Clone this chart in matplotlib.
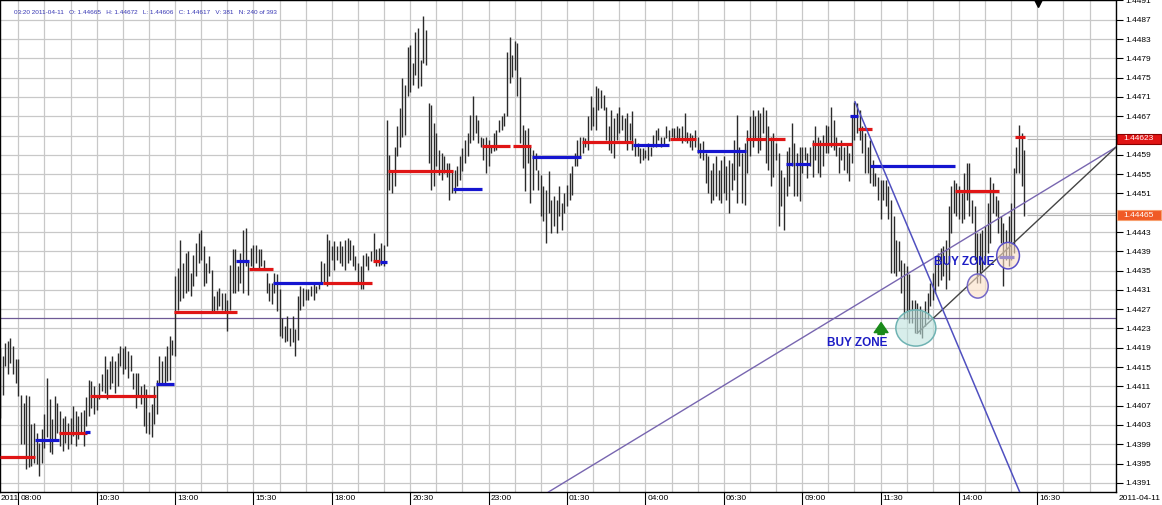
import numpy as np
import matplotlib.pyplot as plt
from matplotlib.patches import Ellipse, Rectangle
import matplotlib.transforms as mtransforms

plt.rcParams['font.family'] = ['Liberation Sans', 'DejaVu Sans']
NARROW = ['Liberation Sans Narrow', 'Liberation Sans', 'DejaVu Sans']

# 5 minute bars, bar 0 = 08:00 (2011-04-10), prices in 1e-5 units
first_bar = -7
bar_high = [
    144190, 144173, 144200, 144204, 144211, 144193, 144166,
    144166, 144093, 144076, 144093, 144090, 144031, 144035, 144014, 143993, 144021,
    144052, 144128, 144083, 144042, 144090, 144076, 144059, 144045, 144049, 144035,
    144045, 144069, 144059, 144049, 144056, 144062, 144087, 144124, 144121, 144111,
    144093, 144118, 144135, 144173, 144145, 144162, 144173, 144162, 144180, 144193,
    144190, 144193, 144183, 144176, 144138, 144138, 144138, 144111, 144114, 144104,
    144056, 144073, 144111, 144124, 144173, 144162, 144173, 144193, 144214, 144207,
    144338, 144356, 144414, 144366, 144387, 144390, 144345, 144383, 144407, 144428,
    144435, 144400, 144366, 144380, 144352, 144297, 144307, 144314, 144304, 144304,
    144290, 144362, 144394, 144394, 144359, 144387, 144435, 144438, 144369, 144397,
    144404, 144404, 144394, 144394, 144373, 144345, 144325, 144325, 144345, 144342,
    144311, 144252, 144235, 144256, 144231, 144256, 144228, 144297, 144318, 144314,
    144311, 144311, 144318, 144325, 144318, 144325, 144369, 144366, 144425, 144414,
    144400, 144411, 144400, 144411, 144400, 144414, 144418, 144414, 144404, 144380,
    144366, 144359, 144383, 144387, 144380, 144390, 144428, 144394, 144397, 144407,
    144404, 144663, 144590, 144559, 144607, 144649, 144687, 144749, 144735, 144814,
    144818, 144780, 144845, 144852, 144787, 144877, 144849, 144697, 144694, 144656,
    144635, 144601, 144594, 144587, 144573, 144573, 144559, 144559, 144566, 144587,
    144604, 144621, 144635, 144673, 144711, 144673, 144663, 144628, 144625, 144628,
    144621, 144607, 144635, 144642, 144663, 144670, 144676, 144804, 144835, 144797,
    144825, 144821, 144752, 144652, 144642, 144645, 144607, 144601, 144594, 144559,
    144549, 144525, 144518, 144556, 144497, 144504, 144497, 144525, 144490, 144511,
    144528, 144552, 144566, 144594, 144621, 144628, 144628, 144625, 144670, 144711,
    144690, 144732, 144728, 144725, 144714, 144690, 144649, 144683, 144666, 144676,
    144690, 144673, 144666, 144676, 144656, 144680, 144625, 144614, 144604, 144604,
    144601, 144614, 144607, 144632, 144642, 144645, 144628, 144628, 144649, 144642,
    144645, 144645, 144649, 144645, 144649, 144676, 144638, 144635, 144632, 144642,
    144628, 144614, 144618, 144594, 144587, 144559, 144573, 144587, 144559, 144580,
    144587, 144566, 144580, 144573, 144621, 144673, 144607, 144594, 144614, 144642,
    144670, 144683, 144670, 144683, 144676, 144690, 144683, 144649, 144628, 144635,
    144614, 144594, 144559, 144545, 144597, 144607, 144656, 144614, 144594, 144607,
    144607, 144607, 144594, 144607, 144621, 144649, 144628, 144621, 144632, 144652,
    144649, 144690, 144663, 144628, 144607, 144621, 144607, 144614, 144594, 144670,
    144700, 144697, 144683, 144649, 144635, 144607, 144621, 144580, 144552, 144545,
    144538, 144538, 144538, 144525, 144497, 144463, 144414, 144411, 144373, 144366,
    144359, 144342, 144290, 144290, 144283, 144276, 144266, 144287, 144304, 144325,
    144345, 144373, 144387, 144397, 144400, 144414, 144483, 144525, 144538, 144532,
    144525, 144511, 144552, 144573, 144573, 144497, 144483, 144428, 144428, 144435,
    144442, 144490, 144545, 144532, 144504, 144497, 144463, 144449, 144435, 144463,
    144490, 144563, 144607, 144652, 144635, 144601,
]
bar_low = [
    144045, 144093, 144152, 144135, 144159, 144135, 144118,
    144090, 143990, 143990, 143938, 143942, 143945, 143952, 143949, 143924, 143952,
    143983, 144004, 143973, 143969, 143997, 144014, 143986, 143976, 143993, 143980,
    143990, 144007, 143986, 144000, 144011, 143986, 144028, 144049, 144066, 144052,
    144062, 144083, 144100, 144097, 144083, 144104, 144118, 144097, 144111, 144152,
    144135, 144145, 144128, 144142, 144104, 144066, 144090, 144073, 144028, 144014,
    144011, 144004, 144031, 144052, 144118, 144118, 144118, 144121, 144124, 144176,
    144173, 144269, 144287, 144293, 144304, 144307, 144297, 144318, 144338, 144366,
    144373, 144318, 144325, 144345, 144266, 144266, 144269, 144276, 144269, 144266,
    144224, 144269, 144304, 144304, 144307, 144325, 144304, 144359, 144300, 144359,
    144352, 144366, 144352, 144359, 144356, 144304, 144287, 144280, 144304, 144266,
    144214, 144211, 144201, 144204, 144194, 144201, 144173, 144207, 144269, 144276,
    144290, 144290, 144297, 144290, 144304, 144311, 144325, 144325, 144318, 144338,
    144373, 144352, 144373, 144366, 144359, 144352, 144366, 144373, 144359, 144352,
    144325, 144311, 144311, 144359, 144352, 144369, 144373, 144359, 144359, 144362,
    144359, 144400, 144518, 144511, 144525, 144587, 144607, 144628, 144632, 144711,
    144721, 144735, 144756, 144728, 144732, 144780, 144776, 144573, 144518, 144525,
    144566, 144549, 144538, 144552, 144545, 144497, 144511, 144511, 144525, 144538,
    144556, 144573, 144587, 144614, 144621, 144635, 144614, 144607, 144580, 144552,
    144566, 144594, 144597, 144601, 144638, 144642, 144649, 144670, 144739, 144752,
    144766, 144711, 144614, 144563, 144514, 144573, 144490, 144518, 144559, 144518,
    144463, 144452, 144407, 144469, 144428, 144442, 144428, 144463, 144435, 144469,
    144483, 144497, 144507, 144566, 144566, 144587, 144594, 144607, 144601, 144642,
    144649, 144642, 144683, 144687, 144683, 144621, 144601, 144594, 144583, 144621,
    144635, 144642, 144614, 144601, 144621, 144601, 144587, 144587, 144573, 144580,
    144583, 144580, 144587, 144607, 144607, 144621, 144607, 144611, 144625, 144618,
    144628, 144621, 144621, 144625, 144614, 144618, 144614, 144607, 144601, 144607,
    144594, 144583, 144580, 144532, 144511, 144490, 144497, 144504, 144497, 144490,
    144511, 144497, 144469, 144518, 144538, 144490, 144566, 144490, 144487, 144552,
    144587, 144607, 144621, 144594, 144601, 144635, 144573, 144559, 144525, 144545,
    144580, 144442, 144483, 144435, 144504, 144525, 144566, 144504, 144504, 144494,
    144552, 144580, 144542, 144566, 144545, 144580, 144552, 144545, 144566, 144594,
    144594, 144607, 144601, 144587, 144552, 144580, 144559, 144552, 144535, 144573,
    144621, 144635, 144621, 144594, 144552, 144552, 144532, 144525, 144525, 144497,
    144456, 144497, 144483, 144456, 144345, 144345, 144338, 144349, 144304, 144249,
    144249, 144242, 144242, 144221, 144221, 144218, 144211, 144235, 144249, 144276,
    144290, 144304, 144318, 144331, 144338, 144311, 144331, 144428, 144469, 144463,
    144456, 144449, 144456, 144497, 144463, 144449, 144373, 144325, 144325, 144352,
    144366, 144387, 144407, 144469, 144463, 144428, 144407, 144318, 144373, 144359,
    144373, 144387, 144552, 144552, 144525, 144463,
]

# horizontal level segments (bar from, bar to, price, side)
level_start = [-7, 6.4, 15.6, 25.5, 27.4, 52.7, 59.6, 83.3, 88.3, 97.5, 116.6,
               135.7, 138.4, 141.5, 166.4, 177.5, 189.3, 196.6, 215.7, 235.2,
               249.4, 259.7, 278.5, 286.9, 293.8, 297.2, 303.8, 318.3, 321.4,
               326.0, 358.5, 375.3, 381.4]
level_end = [6.4, 15.6, 26.3, 27.4, 52.7, 59.6, 83.7, 88.3, 97.5, 116.6, 135.4,
             138.4, 141.1, 166.4, 177.5, 188.2, 196.2, 215.3, 235.2, 249.0,
             259.4, 278.5, 286.1, 293.4, 296.5, 303.0, 319.1, 321.4, 326.7,
             358.5, 375.3, 381.1, 385.3]
level_price = [1.43963, 1.43999, 1.44014, 1.44016, 1.44091, 1.44115, 1.44264,
               1.44369, 1.44354, 1.44324, 1.44324, 1.44370, 1.44367, 1.44557,
               1.44519, 1.44609, 1.44609, 1.44586, 1.44617, 1.44611, 1.44622,
               1.44598, 1.44622, 1.44622, 1.44571, 1.44571, 1.44613, 1.44671,
               1.44644, 1.44567, 1.44515, 1.44379, 1.44626]
level_side = ['up', 'dn', 'up', 'dn', 'up', 'dn', 'up', 'dn', 'up', 'dn', 'up',
              'up', 'dn', 'up', 'dn', 'up', 'up', 'dn', 'up', 'dn', 'up', 'dn',
              'up', 'up', 'dn', 'dn', 'up', 'dn', 'up', 'dn', 'up', 'dn', 'up']

support_price = 1.44252
trend_upper = [(202.9, 1.43891), (420.1, 1.44606)]
trend_lower = [(344.0, 1.44220), (420.1, 1.44606)]
trend_down = [(320.2, 1.44700), (383.4, 1.43889)]

zone_bar = [343.5, 367.2, 378.8]
zone_price = [1.44231, 1.44318, 1.44381]
zone_w = [15.3, 8.0, 8.7]
zone_h = [0.00075, 0.00050, 0.00055]

buy_labels = [(321.0, 1.44200), (362.1, 1.44368)]
arrow_at = (330.2, 1.44212, 1.44248)

last_price = 1.44623
cursor_price = 1.44465

time_ticks = [0, 30, 60, 90, 120, 150, 180, 210, 240, 270, 300, 330, 360, 390]
time_labels = ['08:00', '10:30', '13:00', '15:30', '18:00', '20:30', '23:00',
               '01:30', '04:00', '06:30', '09:00', '11:30', '14:00', '16:30']
price_ticks = [1.4391, 1.4395, 1.4399, 1.4403, 1.4407, 1.4411, 1.4415, 1.4419,
               1.4423, 1.4427, 1.4431, 1.4435, 1.4439, 1.4443, 1.4447, 1.4451,
               1.4455, 1.4459, 1.4463, 1.4467, 1.4471, 1.4475, 1.4479, 1.4483,
               1.4487, 1.4491]
header = ('03:20 2011-04-11   O: 1.44665   H: 1.44672   L: 1.44606   '
          'C: 1.44617   V: 381   N: 240 of 393')

high = np.array(bar_high) / 1e5
low = np.array(bar_low) / 1e5
xs = np.arange(first_bar, first_bar + len(high))

fig = plt.figure(figsize=(11.62, 5.05), dpi=100)
ax = fig.add_axes([0, 13 / 505, 1116 / 1162, 492 / 505])
ax.set_xlim(-7.0, 420.1)
ax.set_ylim(1.43891, 1.44911)

ax.set_xticks(time_ticks)
ax.set_xticks(np.arange(0, 421, 10), minor=True)
ax.set_yticks(price_ticks)
ax.set_axisbelow(True)
ax.grid(True, which='both', axis='x', color='#c8c8c8', lw=0.9)
ax.grid(True, which='major', axis='y', color='#c8c8c8', lw=0.9)
ax.tick_params(axis='x', which='major', length=13, width=0.8, labelbottom=False)
ax.tick_params(axis='x', which='minor', length=0)
ax.yaxis.tick_right()
ax.tick_params(axis='y', length=5, width=0.8, pad=2, labelsize=6)

# the price boxes cover the tick labels sitting behind them
covered = [round(last_price, 4), round(cursor_price, 4) + 0.0001]
ylabels = []
for p in price_ticks:
    hidden = any(abs(p - c) < 0.00015 for c in (last_price, cursor_price))
    ylabels.append('' if hidden else f'{p:.4f}')
ax.set_yticklabels(ylabels)
for s in ax.spines.values():
    s.set_color('black')
    s.set_linewidth(1.0)

for t, lab in zip(time_ticks, time_labels):
    ax.annotate(lab, xy=(t, 0), xycoords=('data', 'axes fraction'),
                xytext=(2, -6.5), textcoords='offset pixels', va='center',
                ha='left', fontsize=6, family=NARROW, annotation_clip=False)
ax.annotate('2011', xy=(0, 0), xycoords='axes fraction', xytext=(1, -6.5),
            textcoords='offset pixels', va='center', ha='left', fontsize=6,
            family=NARROW)
ax.annotate('2011-04-11', xy=(1, 0), xycoords='axes fraction', xytext=(3, -6.5),
            textcoords='offset pixels', va='center', ha='left', fontsize=6,
            family=NARROW)

ax.axhline(support_price, color='#6e5a96', lw=0.9, zorder=1)

ax.vlines(xs, low, high, color='#2a2a2a', lw=1.0, zorder=2)

side_color = {'up': '#e01515', 'dn': '#1515d0'}
for a, b, p, sd in zip(level_start, level_end, level_price, level_side):
    ax.hlines(p, a, b, color=side_color[sd], lw=2.3, zorder=3)

for (x0, y0), (x1, y1) in [trend_upper]:
    ax.plot([x0, x1], [y0, y1], color='#7866b0', lw=1.0, zorder=4)
for (x0, y0), (x1, y1) in [trend_lower]:
    ax.plot([x0, x1], [y0, y1], color='#444444', lw=1.0, zorder=4)
for (x0, y0), (x1, y1) in [trend_down]:
    ax.plot([x0, x1], [y0, y1], color='#5050c0', lw=1.1, zorder=4)

zone_face = ['#bfe3de', '#fbe0c6', '#fbe0c6']
zone_edge = ['#6fb3b3', '#7468c8', '#5a50c8']
for i in range(len(zone_bar)):
    ax.add_patch(Ellipse((zone_bar[i], zone_price[i]), zone_w[i], zone_h[i],
                         facecolor=zone_face[i], edgecolor='none',
                         alpha=0.6, zorder=5))
    ax.add_patch(Ellipse((zone_bar[i], zone_price[i]), zone_w[i], zone_h[i],
                         facecolor='none', edgecolor=zone_edge[i],
                         lw=1.1, zorder=5))

for bx, py in buy_labels:
    ax.text(bx, py, 'BUY ZONE', color='#1c1cc4', fontsize=8.5,
            fontweight='bold', ha='center', va='center', zorder=6)
ax.annotate('', xy=(arrow_at[0], arrow_at[2]), xytext=(arrow_at[0], arrow_at[1]),
            arrowprops=dict(arrowstyle='simple,head_width=1.1,head_length=0.8,tail_width=0.5',
                            color='#1a8a1a', mutation_scale=9), zorder=6)

# price marks on the right axis
ax.hlines([last_price, cursor_price], xs[-1] + 1, 420.1, color='#b4b4b4', lw=0.8, zorder=1)
blend = mtransforms.blended_transform_factory(ax.transAxes, ax.transData)
box_h = 0.000205
for p, fc, ec in [(last_price, '#e01414', '#8a0000'), (cursor_price, '#f05a26', '#f7a070')]:
    ax.add_patch(Rectangle((1.0008, p - box_h / 2), 0.0394, box_h, transform=blend,
                           facecolor=fc, edgecolor=ec, lw=0.8, clip_on=False, zorder=7))
    ax.text(1.0205, p, f'{p:.5f}', transform=blend, color='white', fontsize=6,
            ha='center', va='center', clip_on=False, zorder=8)

ax.plot([390.2], [1.44905], marker='v', color='black', markersize=6, clip_on=False, zorder=8)

fig.text(14 / 1162, 1 - 12 / 505, header, color='#3636b4', fontsize=4.6,
         family=NARROW, ha='left', va='center')

fig.savefig('out.png', dpi=100)
